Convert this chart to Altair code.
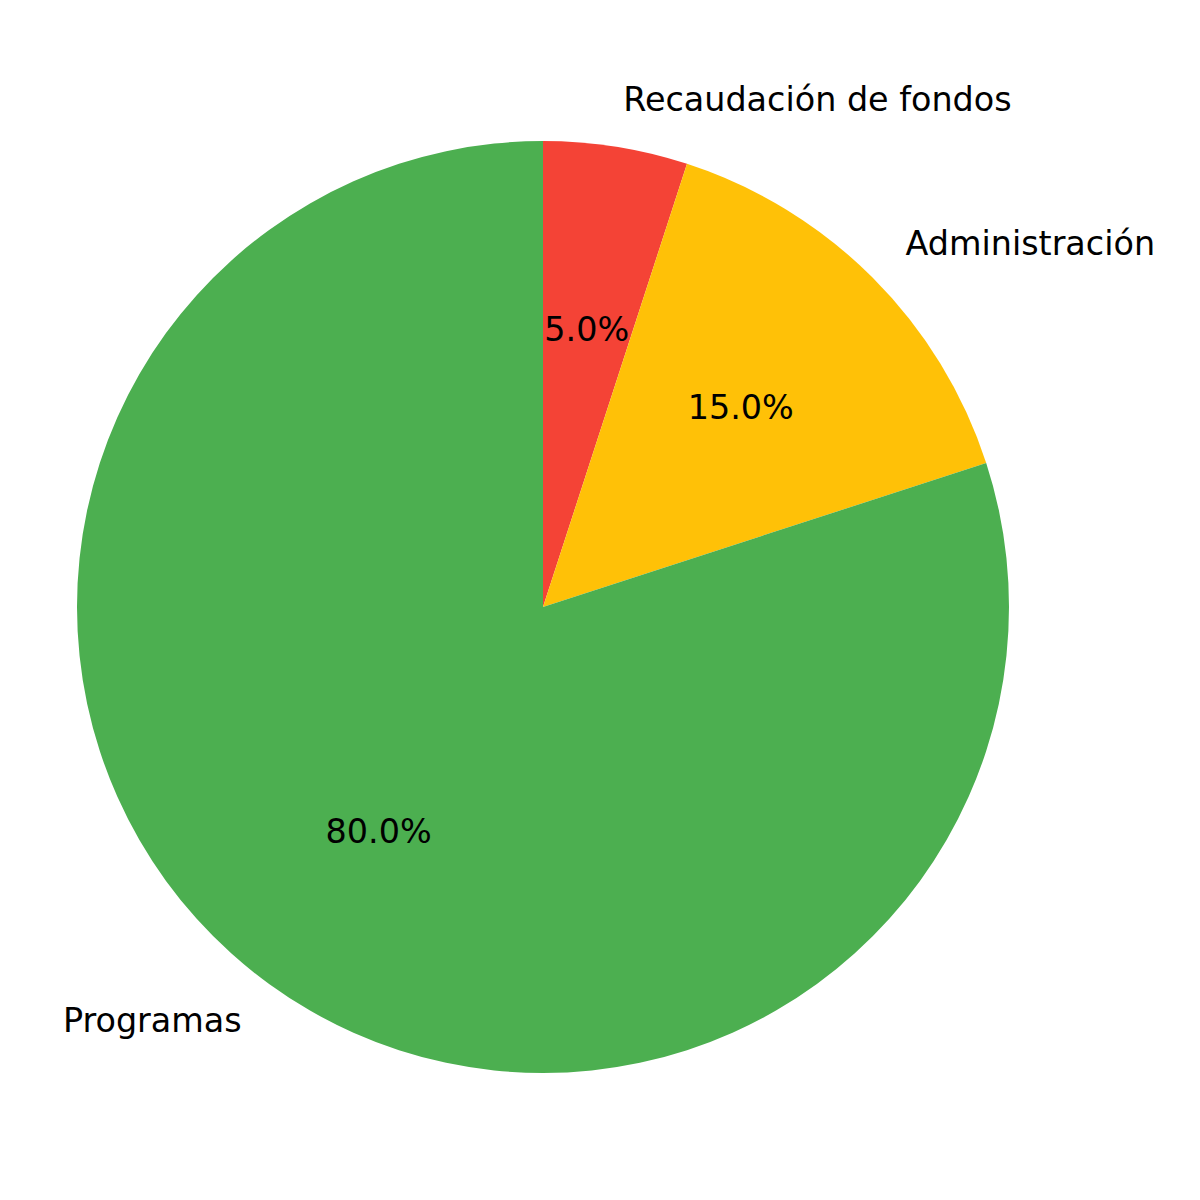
import altair as alt
import pandas as pd

categories = ["Recaudación de fondos", "Administración", "Programas"]
values = [5.0, 15.0, 80.0]
colors = ["#F44336", "#FFC107", "#4CAF50"]
pct_labels = ["5.0%", "15.0%", "80.0%"]
side = ["right", "right", "left"]

df = pd.DataFrame({
    "cat": categories,
    "val": values,
    "pct": pct_labels,
    "side": side,
    "idx": list(range(len(categories))),
})

CX, CY, R = 535, 599, 466
FONT = "DejaVu Sans"
FS = 33.4

base = alt.Chart(df).encode(
    theta=alt.Theta("val:Q", stack=True),
    order=alt.Order("idx:Q"),
    x=alt.value(CX),
    y=alt.value(CY),
)

arcs = base.mark_arc(outerRadius=R, stroke=None).encode(
    color=alt.Color("cat:N", scale=alt.Scale(domain=categories, range=colors), legend=None)
)

pct = base.mark_text(radius=R * 0.6, font=FONT, fontSize=FS, color="black",
                     align="center", baseline="middle").encode(text="pct:N")

lab_right = base.mark_text(radius=R * 1.1, font=FONT, fontSize=FS, color="black",
                           align="left", baseline="middle").encode(
    text="cat:N",
    opacity=alt.condition(alt.datum.side == "right", alt.value(1), alt.value(0)),
)
lab_left = base.mark_text(radius=R * 1.1, font=FONT, fontSize=FS, color="black",
                          align="right", baseline="middle").encode(
    text="cat:N",
    opacity=alt.condition(alt.datum.side == "left", alt.value(1), alt.value(0)),
)

chart = alt.layer(arcs, pct, lab_right, lab_left).properties(
    width=1184, height=1184, padding=0
).configure_view(stroke=None)

chart.save("out.html", embed_options={"renderer": "svg", "actions": False})
